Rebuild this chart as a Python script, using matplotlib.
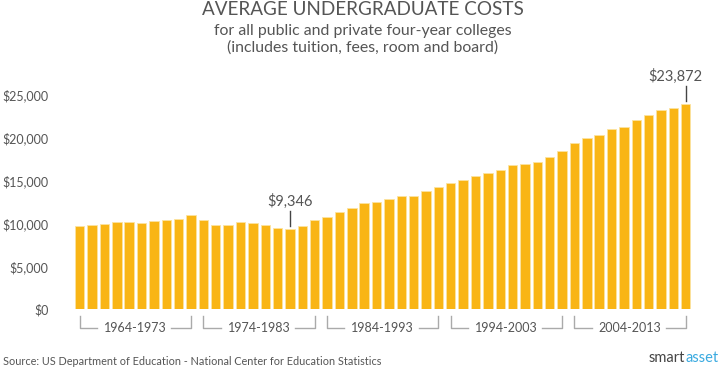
import matplotlib
matplotlib.use('Agg')
import matplotlib.pyplot as plt

# average undergraduate cost per year, 1964-2013
years = list(range(1964, 2014))
costs = [9690, 9800, 9955, 10120, 10120, 10040, 10270, 10385, 10540, 10970,
         10385, 9770, 9800, 10150, 10075, 9840, 9455, 9346, 9690, 10385,
         10770, 11320, 11745, 12400, 12515, 12860, 13180, 13180, 13795, 14225,
         14725, 15000, 15500, 15815, 16165, 16750, 16900, 17130, 17710, 18375,
         19305, 19960, 20310, 20970, 21200, 22050, 22560, 23140, 23450, 23872]
decades = ['1964-1973', '1974-1983', '1984-1993', '1994-2003', '2004-2013']
yticks = [0, 5000, 10000, 15000, 20000, 25000]
ytick_labels = ['$0', '$5,000', '$10,000', '$15,000', '$20,000', '$25,000']
callouts = {1981: '$9,346', 2013: '$23,872'}

plt.rcParams['font.family'] = ['Lato', 'DejaVu Sans']
grey = '#555555'
bar_col = '#F9B515'

fig = plt.figure(figsize=(7.25, 3.71), dpi=100)
ax = fig.add_axes([0.1014, 0.1663, 0.853, 0.649])

x = list(range(len(years)))
ax.bar(x, costs, width=0.76, color=bar_col, edgecolor='#FCE3A0', linewidth=0.6)
ax.set_xlim(-0.5, len(years) - 0.5)
ax.set_ylim(0, 28000)
ax.set_yticks(yticks)
ax.set_yticklabels(ytick_labels, fontsize=9, color=grey)
ax.tick_params(axis='y', length=0, pad=18)
ax.set_xticks([])
for s in ax.spines.values():
    s.set_visible(False)

# callouts
for yr, lab in callouts.items():
    i = years.index(yr)
    v = costs[i]
    ax.plot([i, i], [v + 380, v + 2050], color='#444444', lw=1, clip_on=False)
    dx = -0.85 if i == len(years) - 1 else 0
    ax.text(i + dx, v + 2650, lab, ha='center', va='baseline', fontsize=10.5,
            color=grey, clip_on=False)

# decade brackets below axis
br_col = '#AAAAAA'
for k, d in enumerate(decades):
    s = k * 10
    e = s + 9
    y_top, y_bot = -780, -2175
    ax.plot([s, s, s + 1.4], [y_top, y_bot, y_bot], color=br_col, lw=1, clip_on=False)
    ax.plot([e - 1.6, e, e], [y_bot, y_bot, y_top], color=br_col, lw=1, clip_on=False)
    ax.text(s + 4.5, y_bot, d, ha='center', va='center', fontsize=9, color=grey,
            clip_on=False)

# titles
fig.text(0.5, 0.9596, 'AVERAGE UNDERGRADUATE COSTS', ha='center', va='baseline',
         fontsize=13.6, color=grey)
fig.text(0.5, 0.907, 'for all public and private four-year colleges', ha='center',
         va='baseline', fontsize=11.4, color=grey)
fig.text(0.5, 0.86, '(includes tuition, fees, room and board)', ha='center',
         va='baseline', fontsize=11.4, color=grey)

fig.text(0.004, 0.016, 'Source: US Department of Education - National Center for Education Statistics',
         ha='left', va='baseline', fontsize=7.8, color=grey)
fig.text(685 / 725, 0.024, 'smart', ha='right', va='baseline', fontsize=10.5, color='#444444')
fig.text(685 / 725, 0.024, 'asset', ha='left', va='baseline', fontsize=10.5, color='#3AAAE0')

fig.savefig('out.png', dpi=100)
